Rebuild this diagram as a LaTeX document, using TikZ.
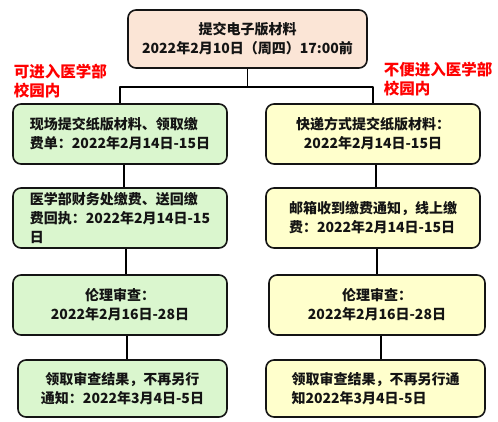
\documentclass[tikz,border=0pt]{standalone}
\usepackage{fontspec}
\setmainfont{Noto Sans CJK SC}
\definecolor{peach}{HTML}{FBE5D6}
\definecolor{mint}{HTML}{DAF6CE}
\definecolor{cream}{HTML}{FFFFCC}
\definecolor{ink}{HTML}{141414}
\begin{document}
\begin{tikzpicture}[x=1pt,y=-1pt,line join=round,line width=1.6pt,
		font={\fontsize{14}{19}\selectfont\bfseries},
		box/.style={draw=ink,rounded corners=8pt,text=ink,inner sep=2pt},
		gbox/.style={box,fill=mint},
		ybox/.style={box,fill=cream},
		note/.style={text=red,align=left,anchor=north west,inner sep=0pt,
			font={\fontsize{15.5}{19}\selectfont\bfseries}}]
		\useasboundingbox (0,0) rectangle (498,422);
		% top
		\node[box,fill=peach,minimum width=239pt,minimum height=58pt,align=center] (top) at (247.5,39)
		{提交电子版材料\\2022年2月10日（周四）17:00前};
		% left branch
		\node[gbox,minimum width=214pt,minimum height=60pt,align=left] (L1) at (120,134)
		{现场提交纸版材料、领取缴\\费单：2022年2月14日-15日};
		\node[gbox,minimum width=214pt,minimum height=60pt,align=left] (L2) at (120,218)
		{医学部财务处缴费、送回缴\\费回执：2022年2月14日-15\\日};
		\node[gbox,minimum width=214pt,minimum height=60pt,align=center] (L3) at (120,305)
		{伦理审查：\\2022年2月16日-28日};
		\node[gbox,minimum width=209pt,minimum height=57pt,align=center] (L4) at (122.5,388.5)
		{领取审查结果，不再另行\\通知：2022年3月4日-5日};
		% right branch
		\node[ybox,minimum width=214pt,minimum height=60pt,align=center] (R1) at (373,134)
		{快递方式提交纸版材料：\\2022年2月14日-15日};
		\node[ybox,minimum width=214pt,minimum height=60pt,align=left] (R2) at (373,218)
		{邮箱收到缴费通知，线上缴\\费：2022年2月14日-15日};
		\node[ybox,minimum width=216pt,minimum height=60pt,align=center] (R3) at (377,305)
		{伦理审查：\\2022年2月16日-28日};
		\node[ybox,minimum width=219pt,minimum height=57pt,align=left] (R4) at (375.5,388.5)
		{领取审查结果，不再另行通\\知2022年3月4日-5日};
		% red notes
		\node[note] (nL) at (13,63) {可进入医学部\\校园内};
		\node[note] (nR) at (383,61) {不便进入医学部\\校园内};
		% connectors
		\coordinate (split) at (247.5,87);
		\draw (top.south) -- (split);
		\draw (L1.north) |- (split) -| (R1.north);
		\draw ([xshift=4pt]L1.south) -- ([xshift=4pt]L1.south |- L2.north);
		\draw ([xshift=6pt]L2.south) -- ([xshift=6pt]L2.south |- L3.north);
		\draw ([xshift=4.5pt]L4.north |- L3.south) -- ([xshift=4.5pt]L4.north);
		\draw ([xshift=3pt]R1.south) -- ([xshift=3pt]R1.south |- R2.north);
		\draw ([xshift=4pt]R2.south) -- ([xshift=4pt]R2.south |- R3.north);
		\draw ([xshift=4pt]R3.south) -- ([xshift=4pt]R3.south |- R4.north);
\end{tikzpicture}
\end{document}
